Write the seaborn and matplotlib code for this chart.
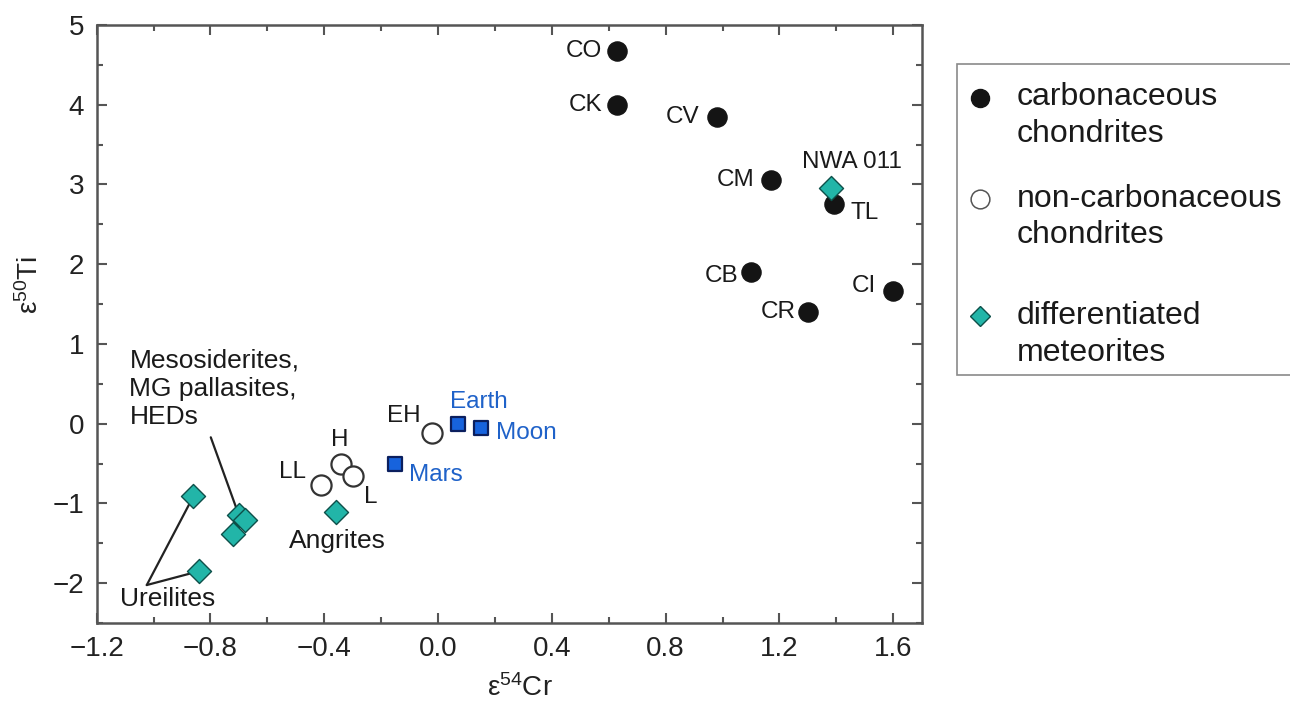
import matplotlib
matplotlib.use("Agg")
import matplotlib.pyplot as plt
import seaborn as sns
import pandas as pd
from matplotlib.ticker import MultipleLocator
from matplotlib.lines import Line2D
from matplotlib.patches import Rectangle

# ---------------- data ----------------
carb_names = ["CO", "CK", "CV", "CM", "TL", "CB", "CR", "CI"]
carb_cr = [0.63, 0.63, 0.98, 1.17, 1.39, 1.10, 1.30, 1.60]
carb_ti = [4.68, 4.00, 3.84, 3.05, 2.76, 1.90, 1.40, 1.67]

nc_names = ["EH", "H", "L", "LL"]
nc_cr = [-0.02, -0.34, -0.30, -0.41]
nc_ti = [-0.12, -0.50, -0.66, -0.77]

planet_names = ["Earth", "Moon", "Mars"]
planet_cr = [0.07, 0.15, -0.15]
planet_ti = [-0.01, -0.06, -0.51]

diff_names = ["Ureilite a", "Ureilite b", "Mesosiderites", "MG pallasites", "HEDs", "Angrites", "NWA 011"]
diff_cr = [-0.86, -0.84, -0.72, -0.70, -0.68, -0.36, 1.38]
diff_ti = [-0.91, -1.85, -1.38, -1.15, -1.21, -1.11, 2.96]

x_ticks = [-1.2, -0.8, -0.4, 0.0, 0.4, 0.8, 1.2, 1.6]
y_ticks = [-2, -1, 0, 1, 2, 3, 4, 5]

legend_labels = [["carbonaceous", "chondrites"],
                 ["non-carbonaceous", "chondrites"],
                 ["differentiated", "meteorites"]]

# ---------------- style ----------------
sns.set_theme(style="ticks")
plt.rcParams["font.family"] = ["Liberation Sans", "DejaVu Sans"]
plt.rcParams["axes.unicode_minus"] = True

BLACK = "#141414"
TEAL = "#22b5a8"
TEAL_EDGE = "#0d4f49"
BLUE = "#1763dd"
BLUE_EDGE = "#0b1f5e"
BLUE_TXT = "#1f62c9"
SPINE = "#555555"

fig = plt.figure(figsize=(12.9, 7.02), dpi=100)
ax = fig.add_axes([96.7 / 1290, 1 - 623 / 702, (921.7 - 96.7) / 1290, (623 - 25) / 702])

carb = pd.DataFrame({"cr": carb_cr, "ti": carb_ti, "name": carb_names})
nc = pd.DataFrame({"cr": nc_cr, "ti": nc_ti, "name": nc_names})
pl = pd.DataFrame({"cr": planet_cr, "ti": planet_ti, "name": planet_names})
dif = pd.DataFrame({"cr": diff_cr, "ti": diff_ti, "name": diff_names})

# leader lines (drawn first, below markers)
line_kw = dict(arrowstyle="-", color="#222222", lw=1.6, shrinkA=0)
d = dif.set_index("name")
ax.annotate("", xy=(d.loc["MG pallasites", "cr"], d.loc["MG pallasites", "ti"]),
            xytext=(-0.799, -0.171), arrowprops=dict(**line_kw, shrinkB=2))
ax.annotate("", xy=(d.loc["Ureilite a", "cr"], d.loc["Ureilite a", "ti"]),
            xytext=(-1.024, -2.024), arrowprops=dict(**line_kw, shrinkB=7))
ax.annotate("", xy=(d.loc["Ureilite b", "cr"], d.loc["Ureilite b", "ti"]),
            xytext=(-1.024, -2.024), arrowprops=dict(**line_kw, shrinkB=7))

sns.scatterplot(data=carb, x="cr", y="ti", ax=ax, marker="o", s=190,
                color=BLACK, edgecolor=BLACK, linewidth=1, zorder=3, legend=False)
sns.scatterplot(data=nc, x="cr", y="ti", ax=ax, marker="o", s=210,
                facecolor="white", edgecolor="#333333", linewidth=1.6, zorder=3, legend=False)
sns.scatterplot(data=pl, x="cr", y="ti", ax=ax, marker="s", s=110,
                color=BLUE, edgecolor=BLUE_EDGE, linewidth=1.6, zorder=3, legend=False)
sns.scatterplot(data=dif, x="cr", y="ti", ax=ax, marker="D", s=150,
                color=TEAL, edgecolor=TEAL_EDGE, linewidth=1.0, zorder=4, legend=False)

# ---------------- point labels ----------------
lab_fs = 17.5
offsets = {
    "CO": (-10.8, 0, "right"), "CK": (-10.8, 0, "right"), "CV": (-12.7, 0, "right"),
    "CM": (-11.5, 0, "right"), "TL": (12.2, -7, "left"), "CB": (-9.4, -2.4, "right"),
    "CR": (-8.4, 0, "right"), "CI": (-12.2, 3.6, "right"),
    "EH": (-8.4, 12.3, "right"), "H": (-1.2, 16.6, "center"), "LL": (-11.3, 9.6, "right"),
    "L": (8.1, -15.1, "left"),
}
for df in (carb, nc):
    for _, r in df.iterrows():
        dx, dy, ha = offsets[r["name"]]
        ax.annotate(r["name"], (r["cr"], r["ti"]), xytext=(dx, dy), textcoords="offset points",
                    ha=ha, va="center", fontsize=lab_fs, color="#1a1a1a")

p_off = {"Earth": (-6, 16.3), "Moon": (10.8, -3.6), "Mars": (10.1, -7.7)}
for _, r in pl.iterrows():
    dx, dy = p_off[r["name"]]
    ax.annotate(r["name"], (r["cr"], r["ti"]), xytext=(dx, dy), textcoords="offset points",
                ha="left", va="center", fontsize=lab_fs, color=BLUE_TXT)

ax.annotate("NWA 011", (d.loc["NWA 011", "cr"], d.loc["NWA 011", "ti"]), xytext=(15, 18.7),
            textcoords="offset points", ha="center", va="center", fontsize=lab_fs, color="#1a1a1a")
ax.annotate("Angrites", (d.loc["Angrites", "cr"], d.loc["Angrites", "ti"]), xytext=(1.2, -20.9),
            textcoords="offset points", ha="center", va="center", fontsize=19, color="#1a1a1a")
ax.text(-1.085, 0.438, "Mesosiderites,\nMG pallasites,\nHEDs", ha="left", va="center",
        fontsize=19, color="#1a1a1a", linespacing=1.2)
ax.text(-0.950, -2.203, "Ureilites", ha="center", va="center", fontsize=19, color="#1a1a1a")

# ---------------- axes ----------------
ax.set_xlim(-1.2, 1.7)
ax.set_ylim(-2.5, 5)
ax.set_xticks(x_ticks)
ax.set_xticklabels([f"{v:.1f}".replace("-", "\u2212") for v in x_ticks])
ax.set_yticks(y_ticks)
ax.set_yticklabels([f"{v:d}".replace("-", "\u2212") for v in y_ticks])
ax.xaxis.set_minor_locator(MultipleLocator(0.2))
ax.yaxis.set_minor_locator(MultipleLocator(0.5))
ax.tick_params(which="both", direction="in", top=True, right=True, color=SPINE, width=1.5)
ax.tick_params(which="major", length=7, labelsize=20, labelcolor="#222222", pad=9)
ax.tick_params(which="minor", length=4)
for sp in ax.spines.values():
    sp.set_color(SPINE)
    sp.set_linewidth(1.8)

ax.set_xlabel(r"$\mathregular{\varepsilon^{54}}$Cr", fontsize=20, color="#222222", va="center")
ax.set_ylabel(r"$\mathregular{\varepsilon^{50}}$Ti", fontsize=20, color="#222222", va="center")
ax.xaxis.set_label_coords(0.513, -0.109)
ax.yaxis.set_label_coords(-0.081, 0.565)

# ---------------- legend (manual, multi-line labels with marker on first line) ----------------
fig.add_artist(Rectangle((956.7 / 1290, 1 - 375 / 702), 0.30, (375 - 64) / 702,
                         transform=fig.transFigure, facecolor="white", edgecolor="#8a8a8a", lw=1.2))
mk = [dict(marker="o", color=BLACK, mfc=BLACK, mec=BLACK, ms=13),
      dict(marker="o", color="#555555", mfc="white", mec="#555555", ms=13.5, mew=1.1),
      dict(marker="D", color=TEAL, mfc=TEAL, mec=TEAL_EDGE, ms=10.5, mew=1.0)]
mk_y = [98, 199, 316]
base_y = [[105, 141.7], [206.7, 242.7], [324, 361]]
for m, my, lines, bys in zip(mk, mk_y, legend_labels, base_y):
    fig.add_artist(Line2D([980 / 1290], [1 - my / 702], linestyle="none",
                          transform=fig.transFigure, **m))
    for t, by in zip(lines, bys):
        fig.text(1016.7 / 1290, 1 - by / 702, t, ha="left", va="baseline",
                 fontsize=23, color="#1a1a1a")

fig.savefig("out.png", dpi=100, facecolor="white")
